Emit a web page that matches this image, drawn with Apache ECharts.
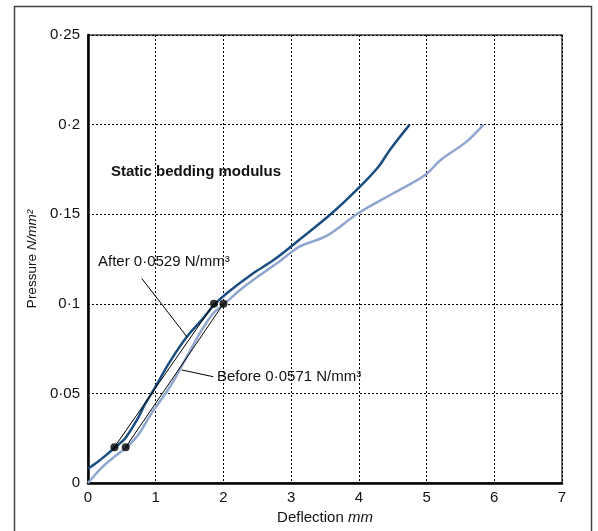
<!DOCTYPE html>
<html>
<head>
<meta charset="utf-8">
<script src="https://cdn.jsdelivr.net/npm/echarts@6/dist/echarts.min.js"></script>
<style>
html,body{margin:0;padding:0;background:#fff;}
#chart{width:598px;height:531px;}
</style>
</head>
<body>
<div id="chart"></div>
<script>
// ---- data ----
var xTickLabels = ['0','1','2','3','4','5','6','7'];
var yTickLabels = ['0','0·05','0·1','0·15','0·2','0·25'];

var afterX = [0, 0.15, 0.3, 0.39, 0.55, 0.72, 0.85, 0.97, 1.21, 1.46, 1.68, 1.86, 2.05, 2.44, 2.74, 3.13, 3.6, 3.99, 4.29, 4.46, 4.75];
var afterY = [0.008, 0.012, 0.0166, 0.0195, 0.025, 0.035, 0.0445, 0.052, 0.0677, 0.0816, 0.091, 0.0993, 0.1059, 0.117, 0.1244, 0.136, 0.1505, 0.1644, 0.1765, 0.186, 0.2];

var beforeX = [0, 0.2, 0.4, 0.557, 0.74, 0.94, 1.21, 1.46, 1.65, 1.85, 2.0, 2.245, 2.54, 2.79, 3.13, 3.53, 3.99, 4.51, 4.98, 5.2, 5.59, 5.84];
var beforeY = [0, 0.0085, 0.0150, 0.0195, 0.0268, 0.039, 0.0537, 0.0705, 0.0835, 0.0947, 0.0995, 0.1077, 0.116, 0.1226, 0.132, 0.138, 0.1505, 0.1617, 0.1719, 0.18, 0.1905, 0.2];

var afterDots = [[0.39, 0.02], [1.86, 0.1]];
var beforeDots = [[0.557, 0.02], [2.0, 0.1]];

var afterLeader = [[0.793, 0.1142], [1.467, 0.0813]];
var beforeLeader = [[1.384, 0.0631], [1.851, 0.0593]];

function zip(xs, ys){ return xs.map(function(x,i){ return [x, ys[i]]; }); }

var chart = echarts.init(document.getElementById('chart'), null, {renderer:'canvas'});
var font = '"Liberation Sans", Arial, sans-serif';
var option = {
  animation: false,
  textStyle: {fontFamily: font},
  grid: {left: 88, top: 35, right: 36, bottom: 48, show: true, borderColor: '#444', borderWidth: 1.5, backgroundColor: 'transparent'},
  xAxis: {
    type: 'value', min: 0, max: 7, interval: 1,
    name: '{n|Deflection }{i|mm}', nameLocation: 'middle', nameGap: 27,
    nameTextStyle: {rich: {n: {fontSize: 15, color: '#111', fontFamily: font}, i: {fontSize: 15, color: '#111', fontStyle: 'italic', fontFamily: font}}},
    axisLine: {show: true, lineStyle: {color: '#000', width: 2.5}},
    axisTick: {show: false},
    axisLabel: {color: '#111', fontSize: 15, margin: 7, fontFamily: font, formatter: function(v, i){ return xTickLabels[i]; }},
    splitLine: {show: true, lineStyle: {color: '#000', type: [2, 2], width: 1}}
  },
  yAxis: {
    type: 'value', min: 0, max: 0.25, interval: 0.05,
    name: '{n|Pressure }{i|N/mm²}', nameLocation: 'middle', nameGap: 47, nameRotate: 90,
    nameTextStyle: {rich: {n: {fontSize: 13.5, color: '#111', fontFamily: font}, i: {fontSize: 13.5, color: '#111', fontStyle: 'italic', fontFamily: font}}},
    axisLine: {show: true, lineStyle: {color: '#000', width: 2.5}},
    axisTick: {show: false},
    axisLabel: {color: '#111', fontSize: 15, margin: 8, fontFamily: font, formatter: function(v, i){ return yTickLabels[i]; }},
    splitLine: {show: true, lineStyle: {color: '#000', type: [2, 2], width: 1}}
  },
  series: [
    {type: 'line', data: zip(beforeX, beforeY), showSymbol: false, smooth: 0.35, lineStyle: {color: '#8fa6cf', width: 2.5}, z: 3},
    {type: 'line', data: zip(afterX, afterY), showSymbol: false, smooth: 0.35, lineStyle: {color: '#1b4e80', width: 2.5}, z: 4},
    {type: 'line', data: afterDots, showSymbol: false, lineStyle: {color: '#000', width: 1}, z: 5},
    {type: 'line', data: beforeDots, showSymbol: false, lineStyle: {color: '#000', width: 1}, z: 5},
    {type: 'line', data: afterLeader, showSymbol: false, lineStyle: {color: '#000', width: 1}, z: 5},
    {type: 'line', data: beforeLeader, showSymbol: false, lineStyle: {color: '#000', width: 1}, z: 5},
    {type: 'scatter', data: afterDots.concat(beforeDots), symbolSize: 8, itemStyle: {color: '#000'}, z: 6}
  ],
  graphic: [
    {type: 'rect', shape: {x: 14.5, y: 6.5, width: 577, height: 540}, style: {fill: 'none', stroke: '#444', lineWidth: 1.5}, silent: true},
    {type: 'text', left: 111, top: 164, style: {text: 'Static bedding modulus', font: 'bold 15px ' + font, fill: '#111'}},
    {type: 'text', left: 98, top: 254, style: {text: 'After 0·0529 N/mm³', font: '15px ' + font, fill: '#111'}},
    {type: 'text', left: 217, top: 369, style: {text: 'Before 0·0571 N/mm³', font: '15px ' + font, fill: '#111'}}
  ]
};
chart.setOption(option);
</script>
</body>
</html>
